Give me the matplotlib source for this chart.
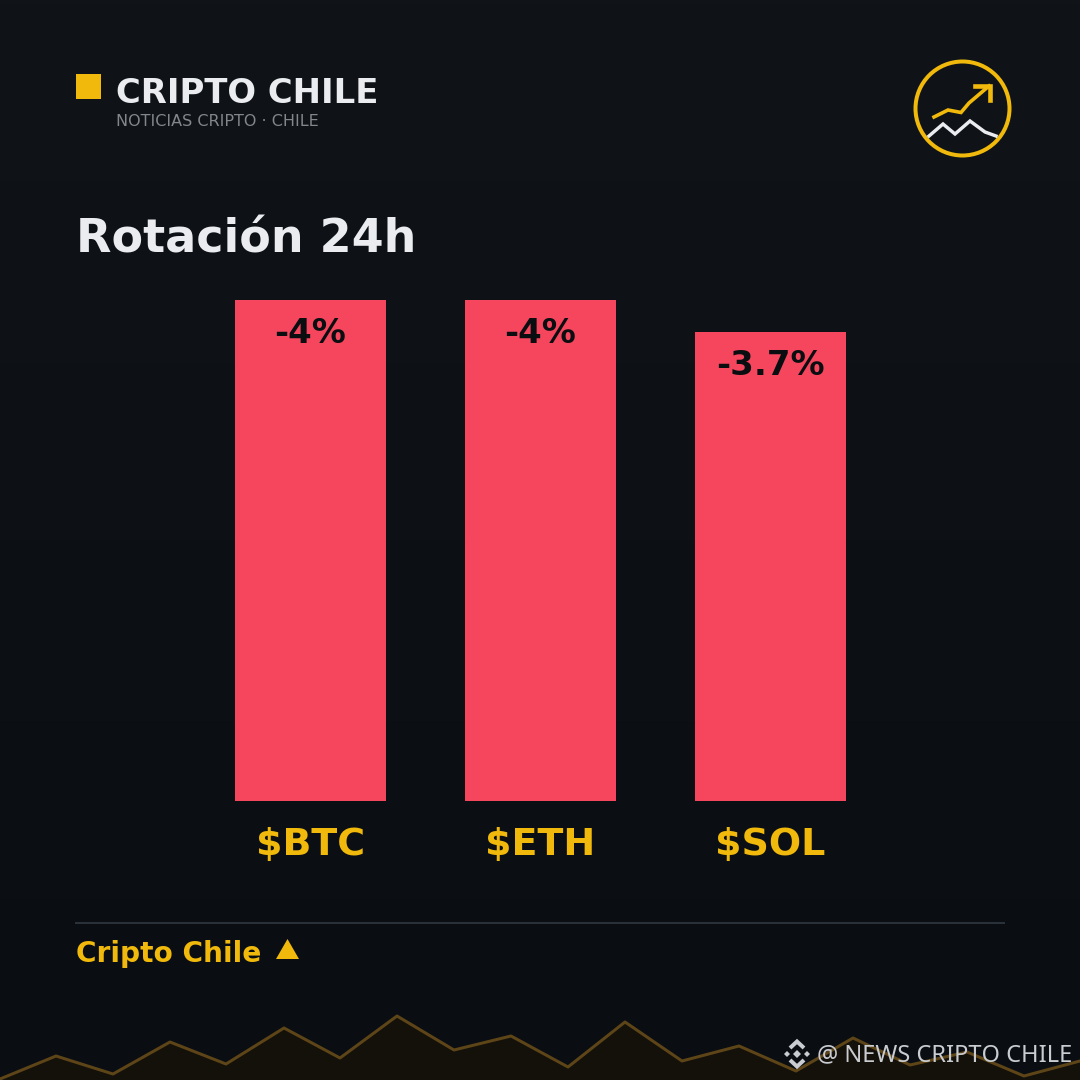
import matplotlib
matplotlib.use("Agg")
import matplotlib.pyplot as plt
from matplotlib.patches import Rectangle, Polygon, Circle
import numpy as np

plt.rcParams['font.family'] = ['DejaVu Sans']

categories = ["$BTC", "$ETH", "$SOL"]
drops = [4.0, 4.0, 3.745]
value_labels = ["-4%", "-4%", "-3.7%"]
ridge_x = [0, 56, 113, 170, 226, 284, 340, 397, 454, 511, 568, 625, 682, 739, 796, 853, 910, 967, 1024, 1080]
ridge_y = [1079, 1056, 1074, 1042, 1064, 1028, 1058, 1016, 1050, 1036, 1067, 1022, 1061, 1046, 1071, 1038, 1065, 1052, 1076, 1061]

GOLD = "#F0B90B"
RED = "#F6465D"
WHITE = "#EAECEF"
PX = 72 / 100

fig = plt.figure(figsize=(10.8, 10.8), dpi=100)
bg = fig.add_axes([0, 0, 1, 1])
bg.set_xlim(0, 1080)
bg.set_ylim(1080, 0)
bg.axis("off")

grad = np.linspace(0, 1, 256).reshape(-1, 1, 1)
top = np.array([0x10, 0x14, 0x19]).reshape(1, 1, 3) / 255
bot = np.array([0x0A, 0x0D, 0x12]).reshape(1, 1, 3) / 255
bg.imshow(top + (bot - top) * grad, extent=(0, 1080, 1080, 0), aspect="auto", zorder=0)

# header
bg.add_patch(Rectangle((76, 74), 25, 25, color=GOLD, lw=0))
bg.text(116, 93.5, "CRIPTO CHILE", color=WHITE, fontsize=33.9 * PX, fontweight="bold", va="center", ha="left")
bg.text(116, 122, "NOTICIAS CRIPTO · CHILE", color="#83878C", fontsize=16 * PX, va="center", ha="left")
bg.text(76, 240, "Rotación 24h", color=WHITE, fontsize=46 * PX, fontweight="bold", va="center", ha="left")

# logo
bg.add_patch(Circle((962.5, 108.5), 47, fill=False, ec=GOLD, lw=4 * PX))
bg.plot([934, 948, 961, 969, 989], [117, 110, 112.5, 103, 86], color=GOLD, lw=3.6 * PX, solid_joinstyle="miter")
bg.plot([975, 990, 990], [86, 86, 100], color=GOLD, lw=4.6 * PX, solid_joinstyle="miter")
bg.plot([929, 943, 955, 970, 985, 996], [136, 124, 134, 121, 132, 136], color=WHITE, lw=3.4 * PX, solid_joinstyle="miter")

# footer
bg.plot([76, 1004], [923, 923], color="#2B3139", lw=2 * PX)
bg.text(76, 954, "Cripto Chile", color=GOLD, fontsize=28 * PX, fontweight="bold", va="center", ha="left")
bg.add_patch(Polygon([[276, 959], [299, 959], [287.5, 939]], color=GOLD, lw=0))

# ridge
bg.fill_between(ridge_x, ridge_y, 1080, color="#14100A", lw=0, zorder=1)
bg.plot(ridge_x, ridge_y, color="#5E4518", lw=3 * PX, zorder=2)

# watermark
wm = "#C9CCD0"
cx, cy = 797, 1054
def diamond(x, y, r):
    bg.add_patch(Polygon([[x - r, y], [x, y - r], [x + r, y], [x, y + r]], color=wm, lw=0, zorder=3))
diamond(cx, cy, 4)
diamond(cx - 10, cy, 3)
diamond(cx + 10, cy, 3)
for s in (-1, 1):
    bg.plot([cx - 7, cx, cx + 7], [cy + s * 6, cy + s * 12.5, cy + s * 6], color=wm, lw=4 * PX, zorder=3,
            solid_joinstyle="miter", solid_capstyle="butt")
bg.text(817, 1055, "@ NEWS CRIPTO CHILE", color=wm, fontsize=23.6 * PX, family="Noto Sans", va="center", ha="left", zorder=4)

# bars
ax = fig.add_axes([235 / 1080, (1080 - 801) / 1080, (846 - 235) / 1080, (801 - 300) / 1080])
ax.patch.set_alpha(0)
pos = np.arange(len(categories))
bars = ax.bar(pos, drops, width=151 / 230, color=RED, lw=0)
ax.set_xlim(-151 / 460, 2 + 151 / 460)
ax.set_ylim(0, 4)
ax.set_xticks(pos, categories, color=GOLD, fontsize=38 * PX, fontweight="bold")
ax.tick_params(axis="x", length=0, pad=18.5)
ax.set_yticks([])
for s in ax.spines.values():
    s.set_visible(False)
for b, lab in zip(bars, value_labels):
    ax.annotate(lab, (b.get_x() + b.get_width() / 2, b.get_height()), xytext=(0, -33.5 * PX),
                textcoords="offset points", ha="center", va="center",
                color="#0B0E11", fontsize=34 * PX, fontweight="bold")

fig.savefig("out.png", dpi=100)
